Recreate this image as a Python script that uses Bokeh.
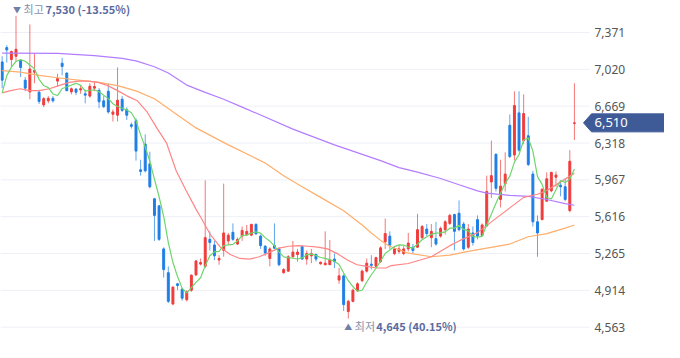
import numpy as np
from bokeh.plotting import figure
from bokeh.models import Label, ColumnDataSource
from bokeh.core.properties import value
from bokeh.embed import file_html
from bokeh.resources import INLINE

opens = [7090, 7227, 7114, 7145, 7105, 6917, 6805, 6993, 6802, 6681,
         6720, 6744, 6908, 7078, 6984, 6805, 6832, 6823, 6787, 6765,
         6841, 6820, 6720, 6811, 6592, 6583, 6735, 6635, 6492, 6532,
         6062, 6307, 6119, 5786, 5719, 5309, 5082, 4784, 4976, 4924,
         4824, 4915, 5061, 5164, 5143, 5400, 5346, 5203, 5294, 5385,
         5467, 5355, 5431, 5446, 5440, 5543, 5431, 5334, 5218, 5340,
         5309, 5082, 5097, 5234, 5255, 5331, 5212, 5243, 5255, 5167,
         5158, 5158, 5212, 5012, 5052, 4712, 4809, 4909, 5006, 5097,
         5164, 5143, 5188, 5376, 5431, 5264, 5285, 5264, 5309, 5325,
         5325, 5416, 5498, 5416, 5406, 5431, 5492, 5552, 5637, 5649,
         5546, 5325, 5461, 5588, 5437, 5528, 5947, 6210, 5780, 5931,
         6487, 6204, 6605, 6341, 6387, 6022, 5567, 5588, 5764, 5862,
         5992, 5916, 5901, 5674, 6505]
highs = [7145, 7250, 7199, 7530, 7114, 6947, 7448, 7175, 6826, 6756,
         6765, 6765, 6978, 7130, 6993, 6847, 6841, 6865, 6826, 6887,
         6902, 6841, 6765, 6887, 6638, 7038, 6765, 6659, 6514, 6553,
         6159, 6401, 6235, 5795, 5725, 5324, 5142, 4951, 4985, 4939,
         4915, 5067, 5203, 5218, 5962, 5476, 5385, 5249, 5931, 5461,
         5552, 5416, 5522, 5537, 5546, 5552, 5446, 5346, 5325, 5552,
         5325, 5127, 5249, 5385, 5309, 5340, 5294, 5309, 5264, 5188,
         5476, 5394, 5264, 5127, 5067, 4824, 4930, 4991, 5112, 5218,
         5249, 5234, 5334, 5598, 5476, 5325, 5346, 5340, 5461, 5355,
         5643, 5537, 5546, 5546, 5567, 5522, 5582, 5643, 5643, 5771,
         5567, 5546, 5522, 5628, 5552, 6007, 6341, 6220, 6159, 6229,
         6590, 6811, 6811, 6781, 6568, 6053, 5628, 5886, 6038, 6044,
         6047, 5947, 5983, 6250, 6887]
lows = [6841, 7084, 7038, 7099, 6947, 6811, 6735, 6887, 6690, 6659,
        6696, 6705, 6856, 6963, 6811, 6781, 6774, 6787, 6696, 6750,
        6811, 6650, 6650, 6598, 6523, 6523, 6614, 6538, 6456, 6150,
        6007, 6038, 5886, 5385, 5385, 5036, 4793, 4772, 4915, 4815,
        4809, 4900, 5052, 5152, 5127, 5294, 5203, 5158, 5234, 5346,
        5385, 5346, 5385, 5431, 5431, 5446, 5309, 5243, 5143, 5309,
        5143, 5073, 5091, 5225, 5188, 5203, 5158, 5173, 5188, 5158,
        5152, 5158, 5127, 4976, 4718, 4645, 4800, 4900, 4991, 5082,
        5112, 5133, 5173, 5309, 5309, 5249, 5264, 5249, 5285, 5264,
        5316, 5400, 5431, 5325, 5340, 5416, 5446, 5537, 5294, 5476,
        5294, 5309, 5340, 5400, 5431, 5522, 5795, 5856, 5704, 5856,
        6174, 6153, 6235, 6305, 6098, 5522, 5234, 5582, 5758, 5849,
        5901, 5810, 5764, 5658, 6347]
closes = [6917, 7205, 7190, 7211, 7038, 6841, 7023, 7008, 6714, 6741,
          6744, 6720, 6932, 7048, 6817, 6835, 6802, 6835, 6774, 6859,
          6856, 6711, 6665, 6614, 6614, 6726, 6629, 6583, 6477, 6241,
          6047, 6053, 5901, 5628, 5400, 5112, 4809, 4945, 4960, 4839,
          4900, 5058, 5194, 5179, 5416, 5370, 5243, 5218, 5461, 5440,
          5400, 5400, 5485, 5476, 5543, 5452, 5340, 5270, 5309, 5316,
          5158, 5112, 5234, 5279, 5279, 5212, 5264, 5264, 5212, 5182,
          5173, 5203, 5188, 5052, 4778, 4809, 4915, 4976, 5097, 5173,
          5152, 5225, 5319, 5455, 5346, 5309, 5309, 5309, 5364, 5294,
          5492, 5522, 5455, 5476, 5355, 5504, 5567, 5628, 5476, 5492,
          5309, 5498, 5370, 5431, 5537, 5856, 6007, 5886, 5907, 6022,
          6189, 6675, 6250, 6599, 6113, 5567, 5461, 5877, 5977, 6038,
          6013, 5901, 5780, 6144, 6510]

# 5-day average: first four points (earlier days not shown)
ma5_head = [6796, 6960, 7040, 7095]

ma20_x = [0, 1.8, 3.9, 6, 8.1, 10.2, 12.3, 14.5, 16.6, 18.7, 20.8, 22.9, 25, 27.1,
          29.3, 31.4, 33.5, 35.6, 37.7, 39.8, 42, 43, 45.1, 47.3, 49.4, 51.5, 53.6,
          55.7, 57.8, 60, 62.1, 64.2, 66.3, 68.4, 70.5, 72.6, 74.8, 76.9, 79, 81.1,
          83.2, 84.3, 88, 93, 97, 99, 103, 107, 110, 113, 116, 118, 120, 124]
ma20_v = [6796, 6817, 6835, 6817, 6817, 6835, 6865, 6896, 6908, 6908, 6896, 6865,
          6817, 6765, 6720, 6614, 6462, 6320, 6053, 5871, 5688, 5613, 5446, 5325,
          5255, 5218, 5212, 5234, 5273, 5316, 5334, 5340, 5334, 5325, 5309, 5264,
          5203, 5158, 5143, 5127, 5127, 5150, 5170, 5234, 5340, 5385, 5464, 5600,
          5700, 5800, 5830, 5865, 5919, 6030]

ma60_x = [0, 4, 8, 12, 17, 21, 25, 29, 33, 37, 42, 49, 57, 61, 65, 69, 74, 78, 80,
          82, 84, 88, 93, 97, 101, 105, 110, 114, 118, 122, 124]
ma60_v = [7008, 6993, 6963, 6940, 6915, 6895, 6865, 6815, 6740, 6615, 6462, 6300,
          6128, 6007, 5901, 5800, 5673, 5537, 5460, 5390, 5334, 5268, 5234, 5250,
          5285, 5316, 5355, 5425, 5455, 5507, 5537]

ma120_x = [0, 12, 20, 26, 29, 33, 36, 40, 44, 48, 52, 56, 63, 72, 82, 86, 90, 95,
           99, 103, 105, 110, 114, 118, 122, 124]
ma120_v = [7175, 7172, 7150, 7125, 7100, 7045, 6985, 6870, 6800, 6735, 6660, 6585,
           6450, 6300, 6150, 6083, 6040, 5980, 5920, 5862, 5840, 5819, 5810, 5780,
           5740, 5725]

y_ticks = [4563, 4914, 5265, 5616, 5967, 6318, 6669, 7020, 7371]

UP = "#f03c3c"
DOWN = "#1f7fe6"

n = len(closes)
idx = np.arange(n)
o = np.array(opens); c = np.array(closes); h = np.array(highs); l = np.array(lows)
colors = [UP if cc >= oo else DOWN for oo, cc in zip(o, c)]

ma5 = list(ma5_head) + [float(np.mean(c[i - 4:i + 1])) for i in range(4, n)]

W, H = 664, 342
X0, X1 = -0.36, 143.52
Y0, Y1 = 4417, 7676
ppx = W / (X1 - X0)
ppy = H / (Y1 - Y0)


def dx(px):
    """canvas pixel -> x data"""
    return X0 + px / ppx


p = figure(width=W, height=H, output_backend="svg", toolbar_location=None,
           x_range=(X0, X1), y_range=(Y0, Y1),
           x_axis_location=None, y_axis_location=None,
           min_border_left=0, min_border_right=0,
           min_border_top=0, min_border_bottom=0, outline_line_color=None,
           background_fill_color="white", border_fill_color="white")
p.xgrid.visible = False
p.ygrid.visible = False

# horizontal grid + right-side price scale
gx0, gx1 = dx(0), dx(589)
p.segment(x0=[gx0] * len(y_ticks), y0=y_ticks, x1=[gx1] * len(y_ticks), y1=y_ticks,
          line_color="#eef0f6", line_width=1)
p.text(x=[dx(594)] * len(y_ticks), y=y_ticks, text=[f"{t:,}" for t in y_ticks],
       text_baseline="middle", text_align="left", text_font=value("Noto Sans"),
       text_font_size=value("12px"), text_color="#555555")

src = ColumnDataSource(dict(x=idx, o=o, c=c, h=h, l=l,
                            top=np.maximum(o, c), bot=np.minimum(o, c), col=colors))
p.segment(x0="x", y0="l", x1="x", y1="h", source=src, line_color="col",
          line_alpha=0.7, line_width=1)
p.vbar(x="x", width=0.42, top="top", bottom="bot", source=src,
       fill_color="col", line_color="col", line_width=1)

p.line(ma120_x, ma120_v, line_color="#b47dff", line_width=1.2)
p.line(ma60_x, ma60_v, line_color="#ffae6b", line_width=1.2)
p.line(ma20_x, ma20_v, line_color="#ff8585", line_width=1.2)
p.line(idx, ma5, line_color="#6cd66c", line_width=1.2)

# max / min annotations
imax = int(np.argmax(h)); imin = int(np.argmin(l))
last = c[-1]
pct_hi = (last / h[imax] - 1) * 100
pct_lo = (last / l[imin] - 1) * 100
KR = "Noto Sans CJK KR"
lab_col = "#8791ab"
num_col = "#5a6c9f"
for (xi, yv, tri, word, num, dy, offs) in [
        (imax, h[imax], "\u25bc", "최고", f"{int(h[imax]):,} ({pct_hi:.2f}%)", 6.7, (-3, 7.5, 29.5)),
        (imin, l[imin], "\u25b2", "최저", f"{int(l[imin]):,} ({pct_lo:.2f}%)", -7.5, (-4, 6.5, 28))]:
    p.add_layout(Label(x=xi, y=yv, text=tri, x_offset=offs[0], y_offset=dy,
                       text_baseline="middle", text_font=KR, text_font_size="8px",
                       text_color="#6f7fa6"))
    p.add_layout(Label(x=xi, y=yv, text=word, x_offset=offs[1], y_offset=dy,
                       text_baseline="middle", text_font=KR, text_font_size="11px",
                       text_color=lab_col))
    p.add_layout(Label(x=xi, y=yv, text=num, x_offset=offs[2], y_offset=dy,
                       text_baseline="middle", text_font=KR, text_font_size="11px",
                       text_font_style="bold", text_color=num_col))

# current price tag
hh = 9 / ppy
tag_x = [dx(583), dx(591), dx(664), dx(664), dx(591)]
tag_y = [last, last + hh, last + hh, last - hh, last - hh]
p.patch(tag_x, tag_y, fill_color="#3f5b97", line_color="#3f5b97", line_width=1)
p.text(x=[dx(594)], y=[last], text=[f"{int(last):,}"], text_baseline="middle",
       text_align="left", text_font=value("Noto Sans"), text_font_size=value("13px"),
       text_color="white")

open("out.html", "w").write(file_html(p, INLINE))
